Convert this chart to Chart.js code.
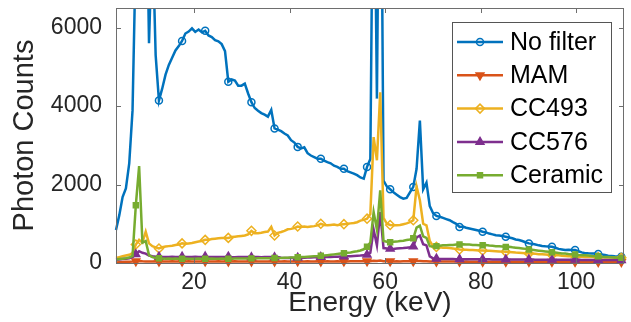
<!DOCTYPE html>
<html>
<head>
<meta charset="utf-8">
<title>Photon counts by filter</title>
<script src="https://cdn.jsdelivr.net/npm/chart.js@4.4.0/dist/chart.umd.min.js"></script>
<style>
  html, body { margin: 0; padding: 0; background: #fff; }
  #wrap { width: 631px; height: 322px; }
</style>
</head>
<body>
<div id="wrap"><canvas id="spectrum" width="631" height="322"></canvas></div>
<script>
// energy bins (keV)
const energy = [
  3.66, 4.35, 5.04, 5.73, 6.43, 7.12, 7.81, 8.50, 9.19, 9.88,
  10.57, 11.27, 11.96, 12.65, 13.34, 14.03, 14.72, 15.41, 16.11, 16.80,
  17.49, 18.18, 18.87, 19.56, 20.25, 20.95, 21.64, 22.33, 23.02, 23.71,
  24.40, 25.09, 25.78, 26.48, 27.17, 27.86, 28.55, 29.24, 29.93, 30.62,
  31.32, 32.01, 32.70, 33.39, 34.08, 34.77, 35.46, 36.16, 36.85, 37.54,
  38.23, 38.92, 39.61, 40.30, 41.00, 41.69, 42.38, 43.07, 43.76, 44.45,
  45.14, 45.84, 46.53, 47.22, 47.91, 48.60, 49.29, 49.98, 50.68, 51.37,
  52.06, 52.75, 53.44, 54.13, 54.82, 55.52, 56.21, 56.90, 57.59, 58.28,
  58.97, 59.66, 60.36, 61.05, 61.74, 62.43, 63.12, 63.81, 64.50, 65.19,
  65.89, 66.58, 67.27, 67.96, 68.65, 69.34, 70.04, 70.73, 71.42, 72.11,
  72.80, 73.49, 74.19, 74.88, 75.57, 76.26, 76.95, 77.64, 78.33, 79.02,
  79.71, 80.41, 81.10, 81.79, 82.48, 83.17, 83.86, 84.55, 85.25, 85.94,
  86.63, 87.32, 88.01, 88.70, 89.39, 90.09, 90.78, 91.47, 92.16, 92.85,
  93.54, 94.23, 94.92, 95.62, 96.31, 97.00, 97.69, 98.38, 99.07, 99.76,
  100.46, 101.15, 101.84, 102.53, 103.22, 103.91, 104.60, 105.30, 105.99, 106.68,
  107.37, 108.06, 108.75, 109.44, 110.14
];

const noFilter = [
  840, 1220, 1680, 1900, 2540, 3890, 8000, 13000, 9000, 11000,
  5600, 8500, 5300, 4140, 4450, 4800, 5050, 5230, 5420, 5530,
  5660, 5850, 5900, 5980, 5890, 5950, 5880, 5920, 5800, 5760,
  5680, 5650, 5580, 5400, 4620, 4680, 4650, 4520, 4520, 4570,
  4320, 4100, 3950, 3880, 3820, 3780, 3730, 3900, 3430, 3400,
  3360, 3300, 3250, 3130, 3070, 2960, 2920, 2950, 2800, 2740,
  2700, 2660, 2660, 2610, 2570, 2540, 2480, 2450, 2400, 2400,
  2340, 2310, 2280, 2240, 2180, 2150, 2450, 2650, 12000, 4190,
  14000, 2100, 1950, 1880, 1800, 1740, 1680, 1640, 1660, 1800,
  1940, 2400, 3630, 1880, 2050, 1450, 1270, 1200, 1180, 1150,
  1120, 1090, 1040, 1000, 920, 930, 900, 880, 860, 840,
  820, 795, 780, 750, 730, 710, 700, 690, 670, 650,
  630, 600, 585, 560, 530, 500, 490, 470, 450, 432,
  425, 420, 415, 390, 360, 345, 330, 335, 330, 330,
  300, 270, 250, 246, 245, 240, 230, 220, 205, 185,
  178, 170, 165, 160, 155
];

const mam = [
  15, 20, 25, 30, 32, 35, 45, 50, 42, 40,
  38, 40, 42, 40, 39, 41, 40, 42, 40, 39,
  41, 40, 42, 40, 41, 39, 40, 42, 41, 40,
  40, 42, 41, 40, 39, 41, 42, 40, 41, 40,
  41, 40, 42, 41, 40, 39, 41, 42, 40, 41,
  40, 42, 41, 40, 41, 42, 40, 41, 42, 40,
  41, 42, 40, 41, 42, 41, 40, 42, 41, 42,
  41, 42, 43, 42, 43, 44, 45, 46, 60, 50,
  65, 45, 42, 42, 41, 42, 41, 42, 42, 43,
  43, 48, 50, 44, 44, 40, 38, 38, 37, 37,
  37, 36, 37, 36, 36, 35, 36, 35, 35, 35,
  35, 34, 35, 34, 34, 34, 33, 34, 33, 33,
  33, 33, 32, 33, 32, 32, 32, 31, 32, 31,
  31, 31, 31, 30, 31, 30, 30, 30, 30, 29,
  30, 29, 29, 29, 29, 28, 28, 28, 28, 28,
  27, 27, 27, 27, 27
];

const cc493 = [
  130, 150, 170, 190, 210, 250, 470, 590, 520, 800,
  500, 430, 400, 370, 400, 420, 430, 440, 460, 470,
  500, 490, 500, 510, 530, 550, 560, 590, 590, 610,
  620, 630, 640, 640, 640, 660, 670, 680, 690, 700,
  730, 820, 760, 760, 770, 790, 800, 920, 700, 770,
  790, 820, 860, 870, 890, 930, 920, 930, 920, 930,
  940, 960, 1000, 970, 960, 970, 980, 960, 980, 990,
  1000, 1010, 1020, 1040, 1080, 1100, 1130, 1250, 3210, 2620,
  4350, 1150, 1000, 970, 960, 960, 970, 990, 1010, 1040,
  1090, 1950, 1600, 1000, 960, 560, 430, 410, 400, 390,
  390, 380, 370, 360, 345, 340, 335, 330, 330, 325,
  320, 320, 315, 310, 305, 300, 295, 290, 285, 280,
  275, 265, 260, 255, 250, 245, 240, 235, 225, 220,
  215, 210, 205, 200, 195, 185, 180, 175, 170, 165,
  160, 160, 155, 155, 150, 150, 145, 145, 140, 140,
  140, 135, 135, 135, 130
];

const cc576 = [
  80, 90, 100, 110, 120, 150, 220, 300, 260, 240,
  190, 170, 160, 160, 150, 155, 150, 160, 150, 155,
  160, 150, 155, 150, 160, 150, 155, 165, 150, 155,
  150, 155, 150, 150, 160, 150, 145, 155, 150, 150,
  150, 145, 155, 150, 145, 150, 155, 150, 145, 150,
  135, 130, 130, 135, 130, 135, 130, 135, 140, 140,
  145, 145, 150, 150, 155, 155, 160, 160, 165, 165,
  170, 175, 180, 185, 190, 200, 210, 260, 850, 450,
  1300, 380, 370, 365, 360, 370, 375, 380, 390, 400,
  420, 650, 700, 480, 450, 170, 120, 110, 105, 105,
  100, 100, 100, 98, 98, 97, 96, 96, 95, 95,
  94, 94, 93, 93, 92, 92, 91, 91, 90, 90,
  90, 89, 89, 88, 88, 87, 87, 86, 86, 85,
  85, 84, 84, 83, 83, 82, 82, 81, 81, 80,
  80, 79, 79, 78, 78, 77, 77, 76, 76, 75,
  75, 74, 74, 73, 73
];

const ceramic = [
  90, 100, 110, 120, 140, 180, 1470, 2470, 520, 560,
  200, 150, 130, 120, 115, 110, 115, 110, 112, 110,
  110, 112, 110, 108, 110, 112, 110, 108, 110, 112,
  110, 110, 112, 110, 108, 110, 112, 114, 112, 115,
  115, 118, 116, 118, 120, 118, 120, 122, 125, 128,
  130, 132, 135, 140, 142, 145, 150, 155, 160, 165,
  170, 175, 185, 190, 200, 210, 220, 230, 240, 250,
  260, 270, 285, 300, 320, 350, 415, 520, 1300, 850,
  1850, 560, 540, 530, 540, 545, 560, 570, 585, 600,
  630, 900, 950, 680, 640, 430, 420, 430, 440, 450,
  450, 460, 460, 470, 470, 480, 470, 470, 460, 460,
  455, 450, 460, 445, 440, 430, 425, 420, 410, 415,
  400, 390, 380, 370, 360, 345, 335, 325, 315, 305,
  295, 285, 275, 265, 255, 245, 240, 230, 225, 215,
  205, 200, 195, 190, 180, 175, 170, 160, 155, 150,
  145, 140, 135, 130, 120
];

const seriesNames = ["No filter", "MAM", "CC493", "CC576", "Ceramic"];
const seriesData = [noFilter, mam, cc493, cc576, ceramic];
const xTicks = [20, 40, 60, 80, 100];
const yTicks = [0, 2000, 4000, 6000];

const FONT = "'Liberation Sans', Arial, Helvetica, sans-serif";
const colors = ["#0072BD", "#D95319", "#EDB120", "#7E2F8E", "#77AC30"];
const markers = [
  { style: "circle", radius: 3.5, fill: "rgba(0,0,0,0)", rotation: 0 },
  { style: "triangle", radius: 4.5, fill: colors[1], rotation: 180 },
  { style: "rectRot", radius: 4.5, fill: "rgba(0,0,0,0)", rotation: 0 },
  { style: "triangle", radius: 4.5, fill: colors[3], rotation: 0 },
  { style: "rect", radius: 3.5, fill: colors[4], rotation: 0 },
];
const MARK_EVERY = 7;

const datasets = seriesData.map((vals, k) => ({
  label: seriesNames[k],
  data: vals,
  borderColor: colors[k],
  borderWidth: 2.5,
  tension: 0,
  order: 5 - k,
  clip: { left: 6, top: 0, right: 6, bottom: 8 },
  pointStyle: markers[k].style,
  pointRotation: markers[k].rotation,
  pointBackgroundColor: markers[k].fill,
  pointBorderColor: colors[k],
  pointBorderWidth: 1.5,
  pointRadius: (ctx) => (ctx.dataIndex % MARK_EVERY === MARK_EVERY - 1 ? markers[k].radius : 0),
  pointHoverRadius: 0,
}));

// box with inward ticks + legend inside the axes
const axesBox = {
  id: "axesBox",
  afterDraw(chart) {
    const { ctx, chartArea: a, scales } = chart;
    const tick = 5;
    ctx.save();
    ctx.strokeStyle = "#6e6e6e";
    ctx.lineWidth = 1;
    ctx.strokeRect(a.left + 0.5, a.top + 0.5, a.right - a.left - 1, a.bottom - a.top);
    ctx.beginPath();
    xTicks.forEach((v) => {
      const x = Math.round(scales.x.getPixelForValue(v)) + 0.5;
      ctx.moveTo(x, a.bottom); ctx.lineTo(x, a.bottom - tick);
      ctx.moveTo(x, a.top); ctx.lineTo(x, a.top + tick);
    });
    yTicks.forEach((v) => {
      const y = Math.round(scales.y.getPixelForValue(v)) + 0.5;
      ctx.moveTo(a.left, y); ctx.lineTo(a.left + tick, y);
      ctx.moveTo(a.right, y); ctx.lineTo(a.right - tick, y);
    });
    ctx.stroke();

    // legend
    const lx = 452.5, ly = 22.5, lw = 159, lh = 170;
    ctx.fillStyle = "#fff";
    ctx.fillRect(lx, ly, lw, lh);
    ctx.strokeStyle = "#555";
    ctx.strokeRect(lx, ly, lw, lh);
    ctx.font = "25px " + FONT;
    ctx.textBaseline = "middle";
    seriesNames.forEach((name, k) => {
      const y = 42 + k * 33.3;
      ctx.strokeStyle = colors[k];
      ctx.lineWidth = 2.5;
      ctx.beginPath();
      ctx.moveTo(457, y); ctx.lineTo(503, y);
      ctx.stroke();
      ctx.fillStyle = markers[k].fill;
      ctx.lineWidth = 1.5;
      Chart.helpers.drawPoint(ctx, {
        pointStyle: markers[k].style,
        radius: markers[k].radius,
        rotation: markers[k].rotation,
        borderWidth: 1.5,
      }, 480, y);
      ctx.fillStyle = "#000";
      ctx.fillText(name, 510, y + 1);
    });
    ctx.restore();
  },
};

new Chart(document.getElementById("spectrum"), {
  type: "line",
  data: { labels: energy, datasets },
  options: {
    responsive: false,
    devicePixelRatio: 1,
    animation: false,
    layout: { padding: { top: 8, right: 7, left: 0, bottom: 0 } },
    plugins: { legend: { display: false }, tooltip: { enabled: false } },
    scales: {
      x: {
        type: "linear",
        min: 3.66,
        max: 110,
        grid: { display: false, drawTicks: false },
        border: { display: false },
        afterBuildTicks: (s) => { s.ticks = xTicks.map((v) => ({ value: v })); },
        ticks: { font: { family: FONT, size: 23 }, color: "#262626", padding: 6, maxRotation: 0, autoSkip: false, callback: (v) => String(v) },
        title: { display: true, text: "Energy (keV)", font: { family: FONT, size: 28 }, color: "#262626", padding: { top: 0, bottom: 2 } },
        afterFit: (s) => { s.height = 59; s.paddingLeft = 0; s.paddingRight = 0; },
      },
      y: {
        min: 0,
        max: 6500,
        grid: { display: false, drawTicks: false },
        border: { display: false },
        afterBuildTicks: (s) => { s.ticks = yTicks.map((v) => ({ value: v })); },
        ticks: { font: { family: FONT, size: 23 }, color: "#262626", padding: 14, callback: (v) => String(v) },
        title: { display: true, text: "Photon Counts", font: { family: FONT, size: 29 }, color: "#262626", padding: { top: 8, bottom: 0 } },
        afterFit: (s) => { s.width = 116; s.paddingTop = 0; s.paddingBottom = 0; },
      },
    },
  },
  plugins: [axesBox],
});
</script>
</body>
</html>
